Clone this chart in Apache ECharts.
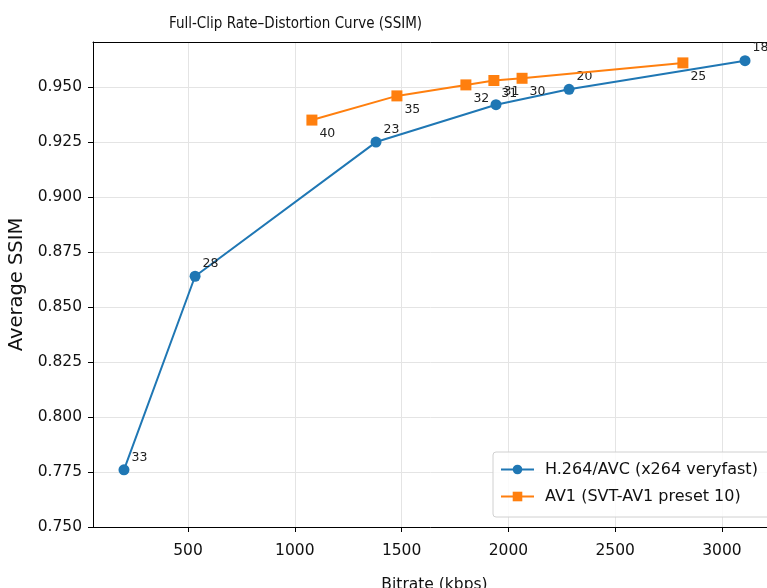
<!DOCTYPE html>
<html><head><meta charset="utf-8">
<script src="https://cdn.jsdelivr.net/npm/echarts@6/dist/echarts.min.js"></script>
<style>html,body{margin:0;padding:0;background:#fff}#c{width:767px;height:588px}</style>
</head><body><div id="c"></div>
<script>
const h264Bitrate = [200, 533, 1380, 1942, 2284, 3108];
const h264Ssim    = [0.776, 0.864, 0.925, 0.942, 0.949, 0.962];
const h264Qp      = [33, 28, 23, 31, 20, 18];
const av1Bitrate  = [1080, 1478, 1801, 1932, 2064, 2817];
const av1Ssim     = [0.935, 0.946, 0.951, 0.953, 0.954, 0.961];
const av1Qp       = [40, 35, 32, 31, 30, 25];
const xTicks = [500, 1000, 1500, 2000, 2500, 3000];
const yTicks = [0.750, 0.775, 0.800, 0.825, 0.850, 0.875, 0.900, 0.925, 0.950];
const seriesNames = ['H.264/AVC (x264 veryfast)', 'AV1 (SVT-AV1 preset 10)'];

const FONT = "'DejaVu Sans', sans-serif";
const COND = "'DejaVu Sans Condensed', 'Liberation Sans Narrow', 'DejaVu Sans', sans-serif";
const chart = echarts.init(document.getElementById('c'), null, {renderer: 'canvas'});

function pts(xs, ys, qs) { return xs.map((x, i) => ({value: [x, ys[i]], qp: qs[i]})); }

const X_MIN = 55, X_MAX = 3253;

chart.setOption({
  animation: false,
  backgroundColor: '#fff',
  title: {
    text: 'Full-Clip Rate\u2013Distortion Curve (SSIM)',
    left: 164, top: 12,
    textStyle: {fontFamily: COND, fontSize: 15, fontWeight: 'normal', color: '#111'}
  },
  grid: {left: 93, top: 42, right: -9, bottom: 61, outerBoundsMode: 'none', containLabel: false},
  legend: {
    orient: 'vertical', left: 493, top: 452,
    padding: [9, 30, 12, 7], itemGap: 10, itemWidth: 33, itemHeight: 12,
    borderColor: '#d0d0d0', borderWidth: 1, borderRadius: 3, backgroundColor: 'rgba(255,255,255,0.85)',
    textStyle: {fontFamily: FONT, fontSize: 16, color: '#111', lineHeight: 17, padding: [0, 0, 0, 6]},
    data: seriesNames
  },
  xAxis: [{
    type: 'value', min: X_MIN, max: X_MAX,
    name: 'Bitrate (kbps)', nameLocation: 'middle', nameGap: 50,
    nameTextStyle: {fontFamily: FONT, fontSize: 15.5, color: '#111'},
    axisLine: {onZero: false, lineStyle: {color: '#000', width: 1}},
    axisTick: {customValues: xTicks, length: 5, lineStyle: {color: '#000'}},
    axisLabel: {customValues: xTicks, margin: 16, fontFamily: FONT, fontSize: 15.5, color: '#111',
      formatter: v => String(v)},
    splitLine: {show: true, lineStyle: {color: '#e4e4e4', width: 1}}
  }, {
    type: 'value', position: 'top', min: X_MIN, max: X_MAX,
    axisLine: {show: true, onZero: false, lineStyle: {color: '#000', width: 1}},
    axisTick: {show: false}, axisLabel: {show: false}, splitLine: {show: false}
  }],
  yAxis: {
    type: 'value', min: 0.75, max: 0.9705,
    name: 'Average SSIM', nameLocation: 'middle', nameGap: 61, nameRotate: 90,
    nameTextStyle: {fontFamily: FONT, fontSize: 19.5, color: '#111'},
    axisLine: {onZero: false, lineStyle: {color: '#000', width: 1}},
    axisTick: {customValues: yTicks, length: 5, lineStyle: {color: '#000'}},
    axisLabel: {customValues: yTicks, margin: 11, fontFamily: FONT, fontSize: 15.5, color: '#111',
      formatter: v => v.toFixed(3)},
    splitLine: {show: true, lineStyle: {color: '#e4e4e4', width: 1}}
  },
  series: [
    {
      name: seriesNames[0], type: 'line', data: pts(h264Bitrate, h264Ssim, h264Qp),
      xAxisIndex: 0, symbol: 'circle', symbolSize: 11, color: '#1f77b4',
      lineStyle: {width: 2, color: '#1f77b4'}, itemStyle: {color: '#1f77b4'},
      label: {show: true, position: [13, -7], align: 'left', verticalAlign: 'middle',
        fontFamily: FONT, fontSize: 12.5, color: '#222', formatter: p => String(p.data.qp)},
      z: 3
    },
    {
      name: seriesNames[1], type: 'line', data: pts(av1Bitrate, av1Ssim, av1Qp),
      xAxisIndex: 0, symbol: 'rect', symbolSize: 11, color: '#ff7f0e',
      lineStyle: {width: 2, color: '#ff7f0e'}, itemStyle: {color: '#ff7f0e'},
      label: {show: true, position: [13, 19], align: 'left', verticalAlign: 'middle',
        fontFamily: FONT, fontSize: 12.5, color: '#222', formatter: p => String(p.data.qp)},
      z: 4
    }
  ]
});
</script></body></html>
